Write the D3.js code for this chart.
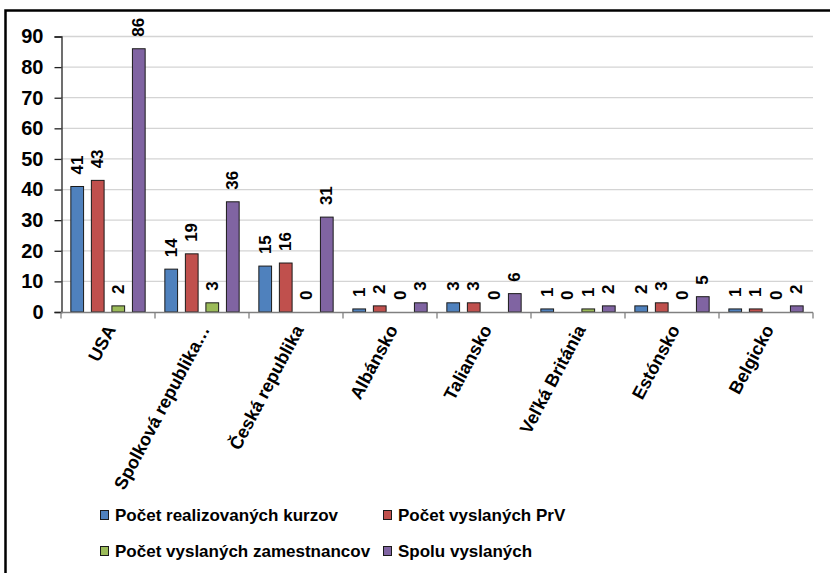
<!DOCTYPE html>
<html>
<head>
<meta charset="utf-8">
<script src="https://cdn.jsdelivr.net/npm/d3@7"></script>
<style>
  html,body{margin:0;padding:0;background:#fff;}
  svg{display:block;font-family:"Liberation Sans",Arial,sans-serif;}
</style>
</head>
<body>
<svg id="chart" width="830" height="573"></svg>
<script>
const categories=['USA','Spolková republika…','Česká republika','Albánsko','Taliansko','Veľká Británia','Estónsko','Belgicko'];
const seriesNames=['Počet realizovaných kurzov','Počet vyslaných PrV','Počet vyslaných zamestnancov','Spolu vyslaných'];
const kurzov=[41,14,15,1,3,1,2,1];
const prv=[43,19,16,2,3,0,3,1];
const zamestnanci=[2,3,0,0,0,1,0,0];
const spolu=[86,36,31,3,6,2,5,2];
const colors=['#4F81BD','#C0504D','#9BBB59','#8064A2'];
const yTicks=[0,10,20,30,40,50,60,70,80,90];

const values=[kurzov,prv,zamestnanci,spolu];
const svg=d3.select('#chart');

// outer frame (runs off the right and bottom edge like the original)
svg.append('rect').attr('x',5.5).attr('y',10.5).attr('width',900).attr('height',700)
  .attr('fill','none').attr('stroke','#000').attr('stroke-width',2.5);

const x=d3.scaleBand().domain(categories).range([61,813]);
const xs=d3.scaleBand().domain(d3.range(4)).range([0,x.bandwidth()]).paddingInner(0.38).paddingOuter(0.48);
const y=d3.scaleLinear().domain([0,90]).range([312,36.5]);

// gridlines
svg.append('g').selectAll('line').data(yTicks.slice(1)).join('line')
  .attr('x1',61).attr('x2',813).attr('y1',d=>y(d)).attr('y2',d=>y(d))
  .attr('stroke','#d4d4d4').attr('stroke-width',1.3);

// y axis
const yAxis=svg.append('g').attr('transform','translate(61.5,0)')
  .call(d3.axisLeft(y).tickValues(yTicks).tickSize(7).tickPadding(11));
yAxis.select('.domain').attr('stroke','#222').attr('stroke-width',1.3);
yAxis.selectAll('.tick line').attr('stroke','#222').attr('stroke-width',1.3);
yAxis.selectAll('text').attr('font-size',20).attr('font-weight','bold').attr('fill','#000')
  .attr('font-family','"Liberation Sans",Arial,sans-serif');

// bars
const rows=categories.map((c,i)=>({c,vals:values.map(s=>s[i])}));
const grp=svg.append('g').selectAll('g').data(rows).join('g').attr('transform',d=>`translate(${x(d.c)},0)`);
grp.selectAll('rect').data(d=>d.vals.map((v,k)=>({v,k})).filter(e=>e.v>0)).join('rect')
  .attr('x',e=>xs(e.k)).attr('width',xs.bandwidth())
  .attr('y',e=>y(e.v)).attr('height',e=>y(0)-y(e.v))
  .attr('fill',e=>colors[e.k]).attr('stroke','#1a1a1a').attr('stroke-width',1);

// data labels
grp.selectAll('text').data(d=>d.vals.map((v,k)=>({v,k}))).join('text')
  .attr('transform',e=>`translate(${xs(e.k)+xs.bandwidth()/2},${y(e.v)-12}) rotate(-90)`)
  .attr('dominant-baseline','central').attr('text-anchor','start')
  .attr('font-size',17).attr('font-weight','bold').text(e=>e.v);

// x axis
const xAxis=svg.append('g').attr('transform','translate(0,312.5)');
xAxis.append('line').attr('x1',61).attr('x2',813).attr('stroke','#808080').attr('stroke-width',1.3);
xAxis.selectAll('line.tk').data(d3.range(categories.length+1)).join('line').attr('class','tk')
  .attr('x1',i=>61+i*x.step()).attr('x2',i=>61+i*x.step()).attr('y1',0).attr('y2',6)
  .attr('stroke','#808080').attr('stroke-width',1.3);
xAxis.selectAll('text').data(categories).join('text')
  .attr('transform',d=>`translate(${x(d)+x.bandwidth()/2+3},14) rotate(-62)`)
  .attr('text-anchor','end').attr('dominant-baseline','central')
  .attr('font-size',18).attr('font-weight','bold').text(d=>d);

// legend
const legendPos=[[100,515],[383,515],[100,551],[383,551]];
const leg=svg.append('g').selectAll('g').data(seriesNames).join('g')
  .attr('transform',(d,i)=>`translate(${legendPos[i][0]},${legendPos[i][1]})`);
leg.append('rect').attr('x',0.5).attr('y',-4.5).attr('width',8).attr('height',9)
  .attr('fill',(d,i)=>colors[i]).attr('stroke','#1a1a1a').attr('stroke-width',1);
leg.append('text').attr('x',15).attr('dy','0.36em').attr('font-size',17).attr('font-weight','bold').text(d=>d);
</script>
</body>
</html>
